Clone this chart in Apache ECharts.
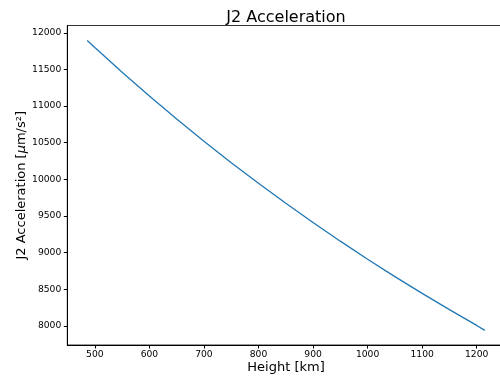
<!DOCTYPE html>
<html>
<head>
<meta charset="utf-8">
<script src="https://cdn.jsdelivr.net/npm/echarts@6/dist/echarts.min.js"></script>
<style>
html,body{margin:0;padding:0;background:#fff;}
#chart{width:500px;height:379px;}
</style>
</head>
<body>
<div id="chart"></div>
<script>
// Data
const heights = [486, 500, 550, 600, 650, 700, 750, 800, 850, 900, 950, 1000, 1050, 1100, 1150, 1200, 1215];
const accel = [11895, 11799, 11462, 11137, 10823, 10520, 10228, 9946, 9674, 9411, 9157, 8911, 8673, 8444, 8222, 8007, 7940];
const xTicks = [500, 600, 700, 800, 900, 1000, 1100, 1200];
const yTicks = [8000, 8500, 9000, 9500, 10000, 10500, 11000, 11500, 12000];

const font = 'DejaVu Sans';
const chart = echarts.init(document.getElementById('chart'), null, {renderer: 'canvas'});
chart.setOption({
  animation: false,
  title: {
    text: 'J2 Acceleration',
    left: 281,
    textAlign: 'center',
    top: 5,
    textStyle: {fontFamily: font, fontSize: 16, fontWeight: 'normal', color: '#000'}
  },
  grid: {
    left: 67.3, width: 437.5, top: 25.5, bottom: 34,
    outerBoundsMode: 'none',
    show: true, borderColor: '#333', borderWidth: 1, containLabel: false
  },
  xAxis: {
    type: 'value',
    min: 449.5, max: 1251.5,
    name: 'Height [km]',
    nameLocation: 'middle',
    nameGap: 16,
    nameMoveOverlap: false,
    nameTextStyle: {fontFamily: font, fontSize: 13, color: '#000'},
    splitLine: {show: false},
    axisLine: {show: true, lineStyle: {color: '#000', width: 1}},
    axisTick: {show: true, length: 3.5, inside: false, customValues: xTicks, lineStyle: {color: '#000'}},
    axisLabel: {customValues: xTicks, formatter: v => String(v), fontFamily: font, fontSize: 9.2, color: '#000', margin: 5}
  },
  yAxis: {
    type: 'value',
    min: 7740, max: 12100,
    name: '{n|J2 Acceleration [}{i|μ}{n|m/s²]}',
    nameLocation: 'middle',
    nameGap: 39,
    nameMoveOverlap: false,
    nameRotate: 90,
    nameTextStyle: {
      fontFamily: font, fontSize: 13, color: '#000',
      rich: {
        n: {fontFamily: font, fontSize: 13, color: '#000'},
        i: {fontFamily: font, fontSize: 13, color: '#000', fontStyle: 'italic'}
      }
    },
    splitLine: {show: false},
    axisLine: {show: true, lineStyle: {color: '#000', width: 1}},
    axisTick: {show: true, length: 3.5, inside: false, customValues: yTicks, lineStyle: {color: '#000'}},
    axisLabel: {customValues: yTicks, formatter: v => String(v), fontFamily: font, fontSize: 9.2, color: '#000', margin: 6}
  },
  series: [{
    type: 'line',
    data: heights.map((h, i) => [h, accel[i]]),
    showSymbol: false,
    symbol: 'none',
    lineStyle: {color: '#1f77b4', width: 1.3},
    clip: false
  }]
});
</script>
</body>
</html>
